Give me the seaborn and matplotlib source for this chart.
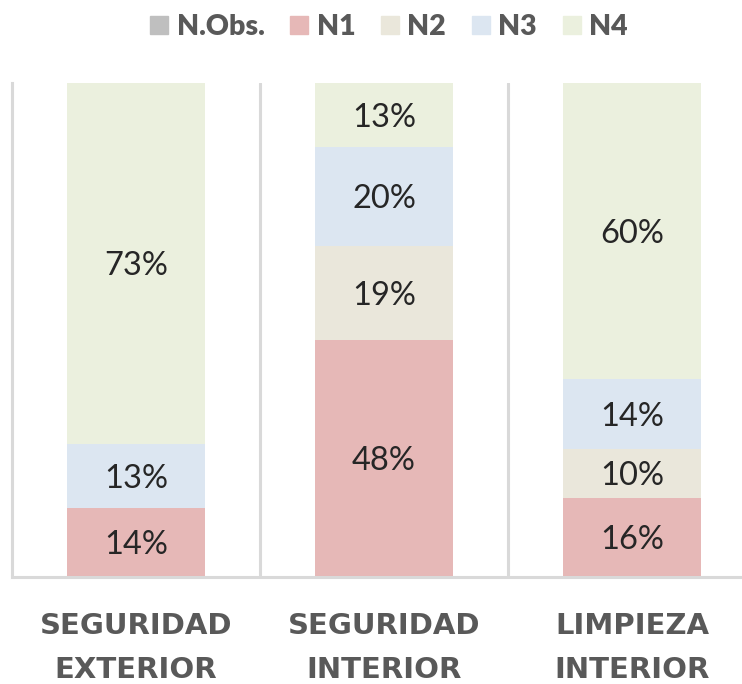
import matplotlib
matplotlib.use('Agg')
import matplotlib.pyplot as plt
import seaborn as sns
import numpy as np

# categorías y porcentajes por nivel
categorias = ['SEGURIDAD\nEXTERIOR', 'SEGURIDAD\nINTERIOR', 'LIMPIEZA\nINTERIOR']
niveles = ['N.Obs.', 'N1', 'N2', 'N3', 'N4']
n_obs = [0, 0, 0]
n1 = [14, 48, 16]
n2 = [0, 19, 10]
n3 = [13, 20, 14]
n4 = [73, 13, 60]

colores = ['#bfbfbf', '#e6b8b7', '#eae7db', '#dce6f1', '#ebf0de']
gris_texto = '#595959'
gris_linea = '#d9d9d9'

sns.set_style('white')
plt.rcParams['font.family'] = ['Lato', 'DejaVu Sans']

fig = plt.figure(figsize=(7.42, 6.84), dpi=100)
ax = fig.add_axes([12 / 742, 1 - 577 / 684, 744 / 742, (577 - 83) / 684])

series = [n_obs, n1, n2, n3, n4]
base = np.zeros(len(categorias))
handles = []
for nombre, vals, col in zip(niveles, series, colores):
    vals = np.array(vals, dtype=float)
    sns.barplot(x=categorias, y=vals, bottom=base, color=col, width=0.556,
                saturation=1, linewidth=0, ax=ax)
    handles.append(plt.Rectangle((0, 0), 1, 1, color=col, label=nombre))
    for i, v in enumerate(vals):
        if v > 0:
            ax.annotate(f'{v:.0f}%', (i, base[i] + v / 2), xytext=(0, -2),
                        textcoords='offset points', ha='center', va='center',
                        fontsize=23.5, color='#262626',
                        family=['Lato', 'DejaVu Sans'])
    base = base + vals

ax.set_xlim(-0.5, 2.5)
ax.set_ylim(0, 100)
ax.set_yticks([])
ax.set_ylabel('')

for s in ['top', 'right']:
    ax.spines[s].set_visible(False)
for s in ['left', 'bottom']:
    ax.spines[s].set_color(gris_linea)
    ax.spines[s].set_linewidth(2.2)
for xs in [0.5, 1.5, 2.5]:
    ax.axvline(xs, color=gris_linea, lw=2.2)

ax.tick_params(axis='x', length=0, pad=25)
for lab in ax.get_xticklabels():
    lab.set_fontsize(21)
    lab.set_fontweight('bold')
    lab.set_color(gris_texto)
    lab.set_family(['DejaVu Sans'])
    lab.set_linespacing(1.72)

leg = fig.legend(handles=handles, loc='center', bbox_to_anchor=(389 / 742, 1 - 27 / 684),
                 ncol=5, frameon=False, handlelength=0.63, handleheight=0.63,
                 handletextpad=0.3, columnspacing=0.9,
                 prop={'family': ['Lato', 'DejaVu Sans'], 'weight': 'heavy', 'size': 20.5})
for t in leg.get_texts():
    t.set_color(gris_texto)

fig.savefig('out.png', dpi=100)
